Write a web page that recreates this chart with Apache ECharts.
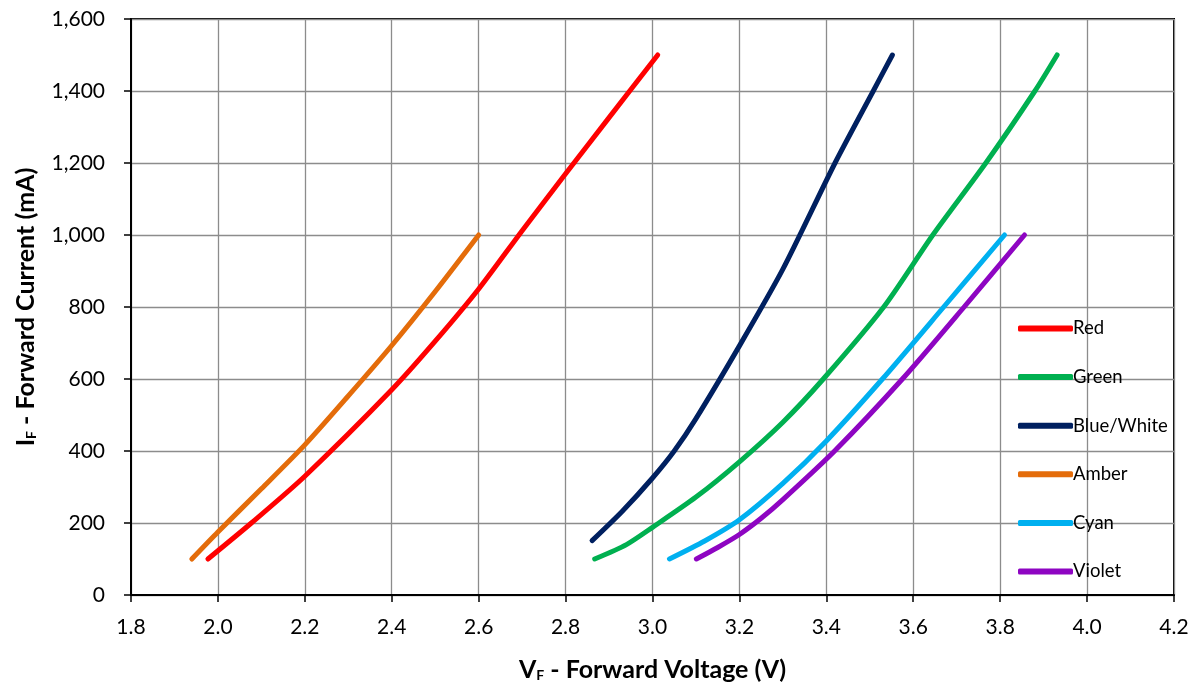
<!DOCTYPE html>
<html>
<head>
<meta charset="utf-8">
<script src="https://cdn.jsdelivr.net/npm/echarts@6/dist/echarts.min.js"></script>
<style>
  html, body { margin: 0; padding: 0; background: #fff; }
  #chart { width: 1201px; height: 687px; }
</style>
</head>
<body>
<div id="chart"></div>
<script>
// ---- data ----
const seriesNames = ['Red', 'Green', 'Blue/White', 'Amber', 'Cyan', 'Violet'];
const seriesColors = ['#FF0000', '#00B050', '#002060', '#E46C0A', '#00B0F0', '#8E05C2'];

const redData = [[1.977,100],[2.077,200],[2.2,330],[2.4,570],[2.5,705],[2.6,850],[2.7,1012],[2.8,1170],[2.9,1326],[3.012,1500]];
const greenData = [[2.867,100],[2.94,140],[3.0,188],[3.1,272],[3.2,370],[3.3,480],[3.393,600],[3.532,800],[3.645,1000],[3.767,1200],[3.88,1400],[3.931,1500]];
const blueData = [[2.861,151],[2.93,232],[3.0,325],[3.05,400],[3.1,490],[3.2,692],[3.3,905],[3.42,1200],[3.508,1400],[3.552,1500]];
const amberData = [[1.94,100],[2.0,175],[2.1,295],[2.2,417],[2.3,553],[2.4,693],[2.5,843],[2.6,1000]];
const cyanData = [[3.039,100],[3.12,150],[3.2,209],[3.3,310],[3.4,428],[3.529,600],[3.67,800],[3.81,1000]];
const violetData = [[3.101,100],[3.15,132],[3.2,168],[3.25,213],[3.3,265],[3.419,400],[3.575,600],[3.717,800],[3.856,1000]];

const allData = [redData, greenData, blueData, amberData, cyanData, violetData];

const xMin = 1.8, xMax = 4.2, xStep = 0.2;
const yMin = 0, yMax = 1600, yStep = 200;

const FONT = 'Lato, "Open Sans", sans-serif';

const chart = echarts.init(document.getElementById('chart'), null, { renderer: 'canvas' });

const series = seriesNames.map((name, i) => ({
  name: name,
  type: 'line',
  data: allData[i],
  smooth: 0.25,
  showSymbol: false,
  symbol: 'none',
  color: seriesColors[i],
  lineStyle: { width: 5, color: seriesColors[i], cap: 'round', join: 'round' },
  emphasis: { disabled: true },
  animation: false
}));

const subRich = {
  b: { fontSize: 25, fontWeight: 'bold', color: '#000', fontFamily: FONT },
  s: { fontSize: 14, fontWeight: 'bold', color: '#000', fontFamily: FONT, verticalAlign: 'bottom', padding: [9, 0, 0, 0] }
};

const option = {
  animation: false,
  backgroundColor: '#ffffff',
  grid: {
    left: 131, right: 27, top: 19, bottom: 92,
    show: true, borderColor: '#000', borderWidth: 2, backgroundColor: 'transparent'
  },
  legend: {
    orient: 'vertical',
    left: 1013,
    top: 314,
    itemWidth: 55,
    itemHeight: 6,
    itemGap: 29.6,
    icon: 'roundRect',
    textStyle: { fontSize: 18.5, color: '#000', fontFamily: FONT, padding: [0, 0, 0, -5] },
    data: seriesNames
  },
  xAxis: {
    type: 'value',
    min: xMin, max: xMax, interval: xStep,
    axisLine: { show: true, lineStyle: { color: '#000', width: 2 } },
    axisTick: { show: true, inside: false, length: 7, lineStyle: { color: '#000', width: 1.5 } },
    axisLabel: {
      fontSize: 21, color: '#000', fontFamily: FONT, margin: 22,
      formatter: v => v.toFixed(1)
    },
    splitLine: { show: true, lineStyle: { color: '#8c8c8c', width: 1.3 } },
    name: '{b|V}{s|F}{b| - Forward Voltage (V)}',
    nameLocation: 'middle',
    nameGap: 62,
    nameTextStyle: { rich: subRich }
  },
  yAxis: {
    type: 'value',
    min: yMin, max: yMax, interval: yStep,
    axisLine: { show: true, lineStyle: { color: '#000', width: 2 } },
    axisTick: { show: true, inside: false, length: 7, lineStyle: { color: '#000', width: 1.5 } },
    axisLabel: {
      fontSize: 21, color: '#000', fontFamily: FONT, margin: 26,
      formatter: v => v.toLocaleString('en-US')
    },
    splitLine: { show: true, lineStyle: { color: '#8c8c8c', width: 1.3 } },
    name: '{b|I}{s|F}{b| - Forward Current (mA)}',
    nameLocation: 'middle',
    nameGap: 93,
    nameTextStyle: { rich: subRich }
  },
  series: series
};

chart.setOption(option);
</script>
</body>
</html>
